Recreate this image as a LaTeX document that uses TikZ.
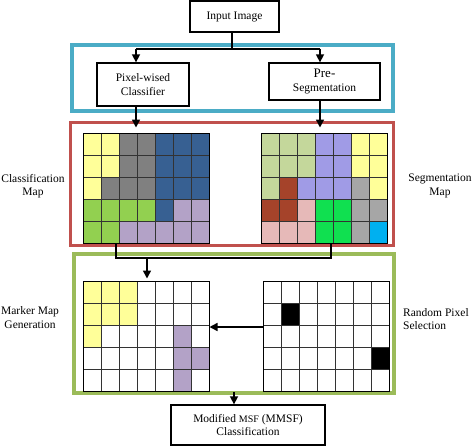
\documentclass[tikz,border=0pt]{standalone}
\usepackage{fontspec}
\setmainfont{Liberation Serif}
\usetikzlibrary{arrows.meta,positioning,calc}
\definecolor{boxBlue}{HTML}{4BACC6}
\definecolor{boxRed}{HTML}{C0504D}
\definecolor{boxGreen}{HTML}{9BBB59}
\definecolor{cY}{HTML}{FFFF99}
\definecolor{cG}{HTML}{808080}
\definecolor{cB}{HTML}{376092}
\definecolor{cN}{HTML}{92D050}
\definecolor{cL}{HTML}{B3A2C7}
\definecolor{sO}{HTML}{C4D79B}
\definecolor{sP}{HTML}{A09BE6}
\definecolor{sR}{HTML}{A5432A}
\definecolor{sK}{HTML}{E6B9B8}
\definecolor{sN}{HTML}{10E050}
\definecolor{sG}{HTML}{A6A6A6}
\definecolor{sC}{HTML}{00B0F0}
\tikzset{
	stage/.style={draw, line width=1.3pt, align=center, inner sep=0pt},
	flow/.style={line width=1.5pt, -{Triangle[width=8pt,length=8pt]}},
	wire/.style={line width=1.5pt},
	cellline/.style={line width=0.9pt, black!80},
	gridframe/.style={draw, line width=1pt, minimum width=126pt, minimum height=110pt, inner sep=0pt},
	maplabel/.style={align=center, inner sep=0pt}
}
% one 7x5 pixel map: name, left, top, rows of colours
\newcommand{\pixmap}[4]{%
	\foreach \cells [count=\r] in {#4}{
		\foreach \cc [count=\k] in \cells
			\fill[\cc] ({#2+18*(\k-1)},{#3+22*(\r-1)}) rectangle ++(18,22);
	}
	\foreach \k in {1,...,6} \draw[cellline] ({#2+18*\k},#3) -- ++(0,110);
	\foreach \r in {1,...,4} \draw[cellline] (#2,{#3+22*\r}) -- ++(126,0);
	\node[gridframe] (#1) at ({#2+63},{#3+55}) {};
}

\begin{document}
\begin{tikzpicture}[x=1pt, y=-1pt, font=\fontsize{11.5}{13.5}\selectfont]
	\useasboundingbox (0,0) rectangle (473,447);
	
	% stage frames
	\draw[boxBlue, line width=4pt] (72,44.5) rectangle (393,110.5);
	\draw[boxRed, line width=3pt] (70.5,122) rectangle (393.5,245);
	\draw[boxGreen, line width=4pt] (74,254) rectangle (394,392.5);
	
	\node[stage, minimum width=89pt, minimum height=31pt] (input) at (234.5,16.5) {Input Image};
	\node[stage, minimum width=92pt, minimum height=43pt] (pix) at (143,84.5) {Pixel-wised\\Classifier};
	\node[stage, minimum width=111pt, minimum height=37pt] (preseg) at (324.5,81.5) {{\fontsize{13}{14}\selectfont Pre-}\\Segmentation};
	\node[stage, minimum width=154pt, minimum height=40pt] (mmsf) at (248,425) {Modified {\fontsize{10}{12}\selectfont MSF} (MMSF)\\Classification};
	
	\pixmap{cmap}{83}{133}{{cY,cY,cG,cG,cB,cB,cB},{cY,cY,cG,cG,cB,cB,cB},{cY,cG,cG,cG,cB,cB,cB},{cN,cN,cN,cN,cB,cL,cL},{cN,cN,cL,cL,cL,cL,cL}}
	\pixmap{smap}{261}{133}{{sO,sO,sO,sP,sP,cY,cY},{sO,sO,sO,sP,sP,cY,cY},{sO,sR,sP,sP,sP,sG,cY},{sR,sR,sK,sN,sN,sG,sG},{sK,sK,sK,sN,sN,sG,sC}}
	\pixmap{mmap}{83}{281}{{cY,cY,cY,white,white,white,white},{cY,cY,cY,white,white,white,white},{cY,white,white,white,white,cL,white},{white,white,white,white,white,cL,cL},{white,white,white,white,white,cL,white}}
	\pixmap{rmap}{263}{281}{{white,white,white,white,white,white,white},{white,black,white,white,white,white,white},{white,white,white,white,white,white,white},{white,white,white,white,white,white,black},{white,white,white,white,white,white,white}}
	
	\node[maplabel] (clab) at (33,186) {Classification\\Map};
	\node[maplabel] (slab) at (440,186) {Segmentation\\Map};
	\node[maplabel] (mlab) at (30,317.5) {Marker Map\\Generation};
	\node[maplabel, align=left, anchor=west] (rlab) at (403,319) {Random Pixel\\Selection};
	
	\coordinate (split) at (232,49);
	\coordinate (a1) at (136,49);
	\coordinate (a2) at (320,49);
	\coordinate (j1) at (116,258);
	\coordinate (j2) at (331,258);
	\coordinate (j3) at (147,258);
	\coordinate (j4) at (234,392);
	
	\draw[wire] (input.south-|split) -- (split);
	\draw[wire] (a1) -- (a2);
	\draw[flow] (a1) -- (a1|-pix.north);
	\draw[flow] (a2) -- (a2|-preseg.north);
	\draw[flow, shorten >=5pt] (pix.south-|a1) -- (cmap.north-|a1);
	\draw[flow, shorten >=5pt] (preseg.south-|a2) -- (smap.north-|a2);
	\draw[wire] (cmap.south-|j1) -- (j1) -- (j2) -- (smap.south-|j2);
	\draw[flow, shorten >=2pt] (j3) -- (j3|-mmap.north);
	\draw[flow] ([yshift=9pt]rmap.west) -- ([yshift=9pt]mmap.east);
	\draw[flow] (j4) -- (j4|-mmsf.north);
\end{tikzpicture}
\end{document}
